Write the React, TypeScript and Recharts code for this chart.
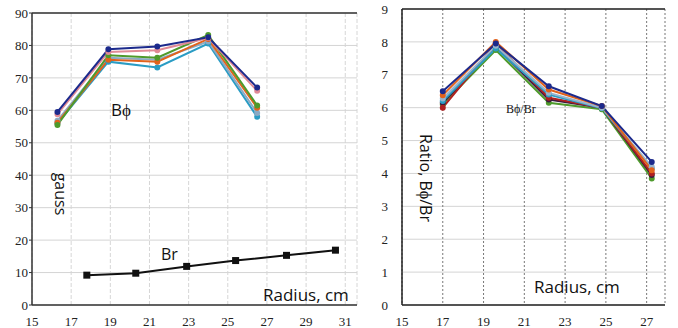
import React from 'react';
import { LineChart, Line, XAxis, YAxis, CartesianGrid, ReferenceLine } from 'recharts';

// left panel: field components vs radius
const bphiRadius = [16.3, 18.9, 21.4, 24.0, 26.5];
const bphiNavy = [59.5, 78.8, 79.7, 82.5, 67.0];
const bphiPink = [58.8, 78.0, 78.5, 82.3, 66.0];
const bphiGreen = [55.5, 77.0, 76.2, 83.2, 61.5];
const bphiOrange = [56.2, 75.6, 75.0, 82.0, 60.8];
const bphiGray = [56.8, 76.2, 75.6, 81.2, 59.2];
const bphiTeal = [56.0, 75.0, 73.2, 80.6, 58.0];

const brRadius = [17.8, 20.3, 22.9, 25.4, 28.0, 30.5];
const brValues = [9.2, 9.8, 11.9, 13.7, 15.3, 16.9];

const leftXTicks = [15, 17, 19, 21, 23, 25, 27, 29, 31];
const leftYTicks = [0, 10, 20, 30, 40, 50, 60, 70, 80, 90];

// right panel: ratio Bphi/Br
const ratioRadius = [17.0, 19.6, 22.2, 24.8, 27.25];
const ratioGreen = [6.1, 7.75, 6.15, 5.95, 3.85];
const ratioDark = [6.15, 7.85, 6.25, 6.0, 3.95];
const ratioRed = [6.0, 7.95, 6.3, 6.0, 4.0];
const ratioTeal = [6.2, 7.8, 6.4, 5.98, 4.15];
const ratioLight = [6.28, 7.88, 6.45, 6.0, 4.2];
const ratioOrange = [6.38, 8.0, 6.55, 6.05, 4.1];
const ratioNavy = [6.5, 7.95, 6.65, 6.05, 4.35];

const rightXTicks = [15, 17, 19, 21, 23, 25, 27];
const rightYTicks = [0, 1, 2, 3, 4, 5, 6, 7, 8, 9];

const pts = (xs: number[], ys: number[]) => xs.map((x, i) => ({ x, y: ys[i] }));

const bphiSeries = [
  { name: 'teal', color: '#2a9cc4', vals: bphiTeal },
  { name: 'gray', color: '#8aaac4', vals: bphiGray },
  { name: 'orange', color: '#e2621c', vals: bphiOrange },
  { name: 'green', color: '#4e9a2c', vals: bphiGreen },
  { name: 'pink', color: '#e08a96', vals: bphiPink },
  { name: 'navy', color: '#1c2a8c', vals: bphiNavy },
];

const ratioSeries = [
  { name: 'green', color: '#4e9a2c', vals: ratioGreen },
  { name: 'dark', color: '#3a1a40', vals: ratioDark },
  { name: 'red', color: '#b02020', vals: ratioRed },
  { name: 'teal', color: '#2a9cc4', vals: ratioTeal },
  { name: 'light', color: '#9ab4cc', vals: ratioLight },
  { name: 'orange', color: '#e2621c', vals: ratioOrange },
  { name: 'navy', color: '#1c2a8c', vals: ratioNavy },
];

const serif = '"Liberation Serif", "DejaVu Serif", serif';
const sans = 'Open Sans';
const tickStyle = { fontFamily: serif, fontSize: 13, fill: '#222' };

const SquareDot = (props: any) => {
  const { cx, cy } = props;
  if (cx == null || cy == null) return null;
  return <rect x={cx - 3.5} y={cy - 3.5} width={7} height={7} fill="#111" />;
};

const label = (text: string, style: React.CSSProperties) => (
  <div style={{ position: 'absolute', whiteSpace: 'nowrap', color: '#111', lineHeight: 1, ...style }}>{text}</div>
);

export default function App() {
  return (
    <div style={{ position: 'absolute', left: 0, top: 0, width: 678, height: 328, background: '#fff', overflow: 'hidden', fontFamily: serif }}>
      <div style={{ position: 'absolute', left: 0, top: 0 }}>
        <LineChart width={360} height={328} margin={{ top: 13, right: 3, bottom: 3, left: 0 }} style={{ fontFamily: serif }}>
          <CartesianGrid stroke="#d6d6d6" strokeDasharray="4 2" horizontal={false} />
          <CartesianGrid stroke="#d4d4d4" vertical={false} />
          <XAxis type="number" dataKey="x" domain={[15, 31.6]} ticks={leftXTicks} allowDataOverflow
            height={20} tickLine={false} tickMargin={6} tick={tickStyle} axisLine={{ stroke: '#333', strokeWidth: 1.5 }} />
          <YAxis type="number" dataKey="y" domain={[0, 90]} ticks={leftYTicks} width={32}
            tickSize={3} tickLine={{ stroke: '#333' }} tickMargin={1} tick={tickStyle} axisLine={{ stroke: '#333', strokeWidth: 1.5 }} />
          <ReferenceLine y={90} stroke="#333" strokeWidth={1.5} />
          {bphiSeries.map((s) => (
            <Line key={s.name} data={pts(bphiRadius, s.vals)} dataKey="y" type="linear" stroke={s.color} strokeWidth={2}
              dot={{ r: 2, fill: s.color, stroke: s.color }} isAnimationActive={false} />
          ))}
          <Line data={pts(brRadius, brValues)} dataKey="y" type="linear" stroke="#111" strokeWidth={2}
            dot={<SquareDot />} isAnimationActive={false} />
        </LineChart>
      </div>
      {label('B\u03d5', { left: 111, top: 101, fontFamily: sans, fontSize: 17 })}
      {label('gauss', { left: 40, top: 186, fontFamily: sans, fontSize: 16, transform: 'rotate(90deg)' })}
      {label('Br', { left: 161, top: 246, fontFamily: sans, fontSize: 16 })}
      {label('Radius, cm', { left: 263, top: 286, fontFamily: sans, fontSize: 17 })}

      <div style={{ position: 'absolute', left: 370, top: 0 }}>
        <LineChart width={300} height={328} margin={{ top: 9, right: 5, bottom: 3, left: 0 }} style={{ fontFamily: serif }}>
          <CartesianGrid stroke="#d4d4d4" vertical={false} />
          <CartesianGrid stroke="#777" strokeDasharray="2 2" horizontal={false} />
          <XAxis type="number" dataKey="x" domain={[15, 27.9]} ticks={rightXTicks} allowDataOverflow
            height={20} tickLine={false} tickMargin={6} tick={tickStyle} axisLine={{ stroke: '#222', strokeWidth: 1.5 }} />
          <YAxis type="number" dataKey="y" domain={[0, 9]} ticks={rightYTicks} width={32}
            tickLine={false} tickMargin={8} tick={tickStyle} axisLine={{ stroke: '#222', strokeWidth: 1.5 }} />
          <ReferenceLine y={9} stroke="#222" strokeWidth={1.5} />
          {ratioSeries.map((s) => (
            <Line key={s.name} data={pts(ratioRadius, s.vals)} dataKey="y" type="linear" stroke={s.color} strokeWidth={2}
              dot={{ r: 2, fill: s.color, stroke: s.color }} isAnimationActive={false} />
          ))}
        </LineChart>
      </div>
      {label('B\u03d5/Br', { left: 506, top: 103, fontFamily: serif, fontSize: 12 })}
      {label('Ratio, B\u03d5/Br', { left: 382, top: 170, fontFamily: sans, fontSize: 16, transform: 'rotate(90deg)' })}
      {label('Radius, cm', { left: 534, top: 278, fontFamily: sans, fontSize: 17 })}
    </div>
  );
}
